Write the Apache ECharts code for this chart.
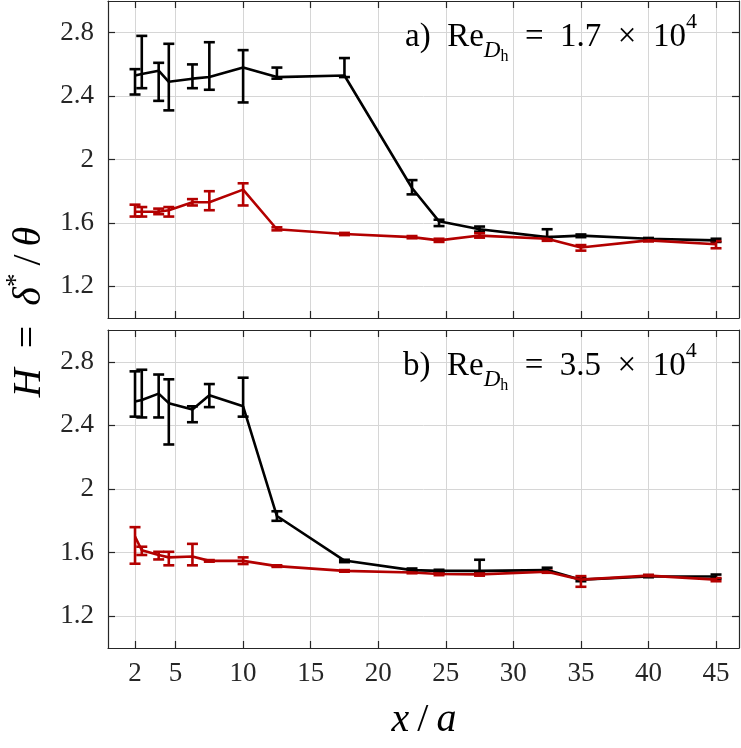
<!DOCTYPE html>
<html>
<head>
<meta charset="utf-8">
<script src="https://cdn.jsdelivr.net/npm/echarts@6/dist/echarts.min.js"></script>
<style>
  html, body { margin: 0; padding: 0; background: #fff; }
  #main { width: 741px; height: 748px; }
</style>
</head>
<body>
<div id="main"></div>
<script>
// x/a stations (shared by all series)
const xPos = [2, 2.5, 3.75, 4.5, 6.25, 7.5, 10, 12.5, 17.5, 22.5, 24.5, 27.5, 32.5, 35, 40, 45];
const xTicks = [2, 5, 10, 15, 20, 25, 30, 35, 40, 45];
const yTicks = [1.2, 1.6, 2, 2.4, 2.8];

// a) Re = 1.7e4
const aBlack   = [2.53, 2.54, 2.56, 2.49, 2.51, 2.52, 2.58, 2.52, 2.53, 1.82, 1.61, 1.56, 1.51, 1.52, 1.50, 1.49];
const aBlackLo = [2.41, 2.45, 2.37, 2.31, 2.45, 2.44, 2.36, 2.51, 2.52, 1.78, 1.58, 1.545, 1.50, 1.51, 1.493, 1.48];
const aBlackHi = [2.57, 2.78, 2.61, 2.73, 2.60, 2.74, 2.69, 2.58, 2.64, 1.87, 1.62, 1.577, 1.56, 1.527, 1.505, 1.50];
const aRed     = [1.67, 1.67, 1.67, 1.68, 1.73, 1.73, 1.81, 1.56, 1.53, 1.51, 1.49, 1.52, 1.50, 1.445, 1.49, 1.465];
const aRedLo   = [1.64, 1.64, 1.655, 1.64, 1.71, 1.68, 1.71, 1.553, 1.523, 1.503, 1.48, 1.507, 1.487, 1.425, 1.483, 1.44];
const aRedHi   = [1.715, 1.70, 1.69, 1.70, 1.75, 1.80, 1.85, 1.572, 1.537, 1.517, 1.50, 1.535, 1.51, 1.46, 1.497, 1.485];

// b) Re = 3.5e4
const bBlack   = [2.55, 2.56, 2.60, 2.54, 2.50, 2.59, 2.52, 1.83, 1.55, 1.49, 1.485, 1.485, 1.49, 1.43, 1.45, 1.45];
const bBlackLo = [2.455, 2.45, 2.45, 2.28, 2.42, 2.515, 2.455, 1.80, 1.54, 1.48, 1.478, 1.478, 1.48, 1.42, 1.445, 1.435];
const bBlackHi = [2.74, 2.75, 2.72, 2.69, 2.52, 2.66, 2.70, 1.86, 1.555, 1.50, 1.492, 1.555, 1.505, 1.44, 1.458, 1.462];
const bRed     = [1.70, 1.615, 1.585, 1.57, 1.575, 1.548, 1.548, 1.515, 1.485, 1.475, 1.465, 1.463, 1.48, 1.43, 1.455, 1.43];
const bRedLo   = [1.53, 1.585, 1.557, 1.52, 1.52, 1.543, 1.528, 1.51, 1.48, 1.47, 1.458, 1.455, 1.473, 1.385, 1.45, 1.42];
const bRedHi   = [1.76, 1.637, 1.605, 1.605, 1.655, 1.553, 1.57, 1.52, 1.49, 1.48, 1.472, 1.47, 1.487, 1.452, 1.46, 1.44];

const font = 'Liberation Serif';
const axisCol = '#262626';
const gridCol = '#d6d6d6';
const black = '#000000';
const red = '#b30000';

const chart = echarts.init(document.getElementById('main'));

function makeX(gi, position) {
  const bottom = position === 'bottom';
  return {
    type: 'value', gridIndex: gi, position: position, min: 0, max: 46.7,
    axisLine: { show: true, onZero: false, lineStyle: { color: axisCol, width: 1.2 } },
    axisTick: { show: true, inside: true, length: 7, customValues: xTicks, lineStyle: { color: axisCol, width: 1.2 } },
    axisLabel: { show: bottom && gi === 1, customValues: xTicks, margin: 12, fontFamily: font, fontSize: 27, color: axisCol },
    splitLine: { show: bottom, lineStyle: { color: gridCol, width: 1 } }
  };
}

function makeY(gi, position) {
  const left = position === 'left';
  return {
    type: 'value', gridIndex: gi, position: position, min: 1, max: 3,
    axisLine: { show: true, onZero: false, lineStyle: { color: axisCol, width: 1.2 } },
    axisTick: { show: true, inside: true, length: 7, customValues: yTicks, lineStyle: { color: axisCol, width: 1.2 } },
    axisLabel: { show: left, customValues: yTicks, margin: 14, fontFamily: font, fontSize: 27, color: axisCol },
    splitLine: { show: left, lineStyle: { color: gridCol, width: 1 } }
  };
}

// vertical error bar with caps, drawn through the axis scales
function errBars(axisIdx, lo, hi, color) {
  return {
    type: 'custom',
    xAxisIndex: axisIdx, yAxisIndex: axisIdx,
    data: xPos.map((x, i) => [x, lo[i], hi[i]]),
    encode: { x: 0, y: [1, 2] },
    renderItem: function (params, api) {
      const top = api.coord([api.value(0), api.value(2)]);
      const bot = api.coord([api.value(0), api.value(1)]);
      const w = 5.5;
      const st = { stroke: color, lineWidth: 2.6 };
      return {
        type: 'group',
        children: [
          { type: 'line', shape: { x1: top[0], y1: top[1], x2: bot[0], y2: bot[1] }, style: st },
          { type: 'line', shape: { x1: top[0] - w, y1: top[1], x2: top[0] + w, y2: top[1] }, style: st },
          { type: 'line', shape: { x1: bot[0] - w, y1: bot[1], x2: bot[0] + w, y2: bot[1] }, style: st }
        ]
      };
    },
    animation: false
  };
}

function lineSeries(axisIdx, vals, color) {
  return {
    type: 'line',
    xAxisIndex: axisIdx, yAxisIndex: axisIdx,
    data: xPos.map((x, i) => [x, vals[i]]),
    symbol: 'none',
    lineStyle: { color: color, width: 2.6 },
    animation: false
  };
}

const annRich = {
  n: { fontFamily: font, fontSize: 33, verticalAlign: 'middle', fill: '#000' },
  d: { fontFamily: font, fontStyle: 'italic', fontSize: 23, padding: [27, 0, 0, 0], verticalAlign: 'middle', fill: '#000' },
  h: { fontFamily: font, fontSize: 16, padding: [39, 0, 0, 0], verticalAlign: 'middle', fill: '#000' },
  s: { fontFamily: font, fontSize: 22, padding: [0, 0, 29, 0], verticalAlign: 'middle', fill: '#000' }
};

const labRich = {
  i: { fontFamily: font, fontStyle: 'italic', fontSize: 40, verticalAlign: 'middle', fill: '#000' },
  n: { fontFamily: font, fontSize: 40, verticalAlign: 'middle', fill: '#000' },
  s: { fontFamily: font, fontSize: 27, padding: [0, 0, 24, 0], verticalAlign: 'middle', fill: '#000' }
};

const option = {
  backgroundColor: '#fff',
  animation: false,
  grid: [
    { left: 108, right: 2, top: 1, height: 317 },
    { left: 108, right: 2, top: 330, height: 318 }
  ],
  xAxis: [makeX(0, 'bottom'), makeX(1, 'bottom'), makeX(0, 'top'), makeX(1, 'top')],
  yAxis: [makeY(0, 'left'), makeY(1, 'left'), makeY(0, 'right'), makeY(1, 'right')],
  series: [
    errBars(0, aBlackLo, aBlackHi, black),
    lineSeries(0, aBlack, black),
    errBars(0, aRedLo, aRedHi, red),
    lineSeries(0, aRed, red),
    errBars(1, bBlackLo, bBlackHi, black),
    lineSeries(1, bBlack, black),
    errBars(1, bRedLo, bRedHi, red),
    lineSeries(1, bRed, red)
  ],
  graphic: [
    {
      type: 'text', x: 405, y: 37, z: 10,
      style: { text: '{n|a)\u2002Re}{d|D}{h|h}{n|\u2002=\u20021.7\u2002\u00d7\u200210}{s|4}', rich: annRich, align: 'left', verticalAlign: 'middle' }
    },
    {
      type: 'text', x: 403, y: 366, z: 10,
      style: { text: '{n|b)\u2002Re}{d|D}{h|h}{n|\u2002=\u20023.5\u2002\u00d7\u200210}{s|4}', rich: annRich, align: 'left', verticalAlign: 'middle' }
    },
    {
      type: 'text', x: 424, y: 720,
      style: { text: '{i|x}{n|\u2009/\u2009}{i|a}', rich: labRich, align: 'center', verticalAlign: 'middle' }
    },
    {
      type: 'text', x: 29, y: 312, rotation: Math.PI / 2,
      style: { text: '{i|H}{n|\u2002=\u2002}{i|\u03b4}{s|*}{n|\u2009/\u2009}{i|\u03b8}', rich: labRich, align: 'center', verticalAlign: 'middle' }
    }
  ]
};

chart.setOption(option);
</script>
</body>
</html>
